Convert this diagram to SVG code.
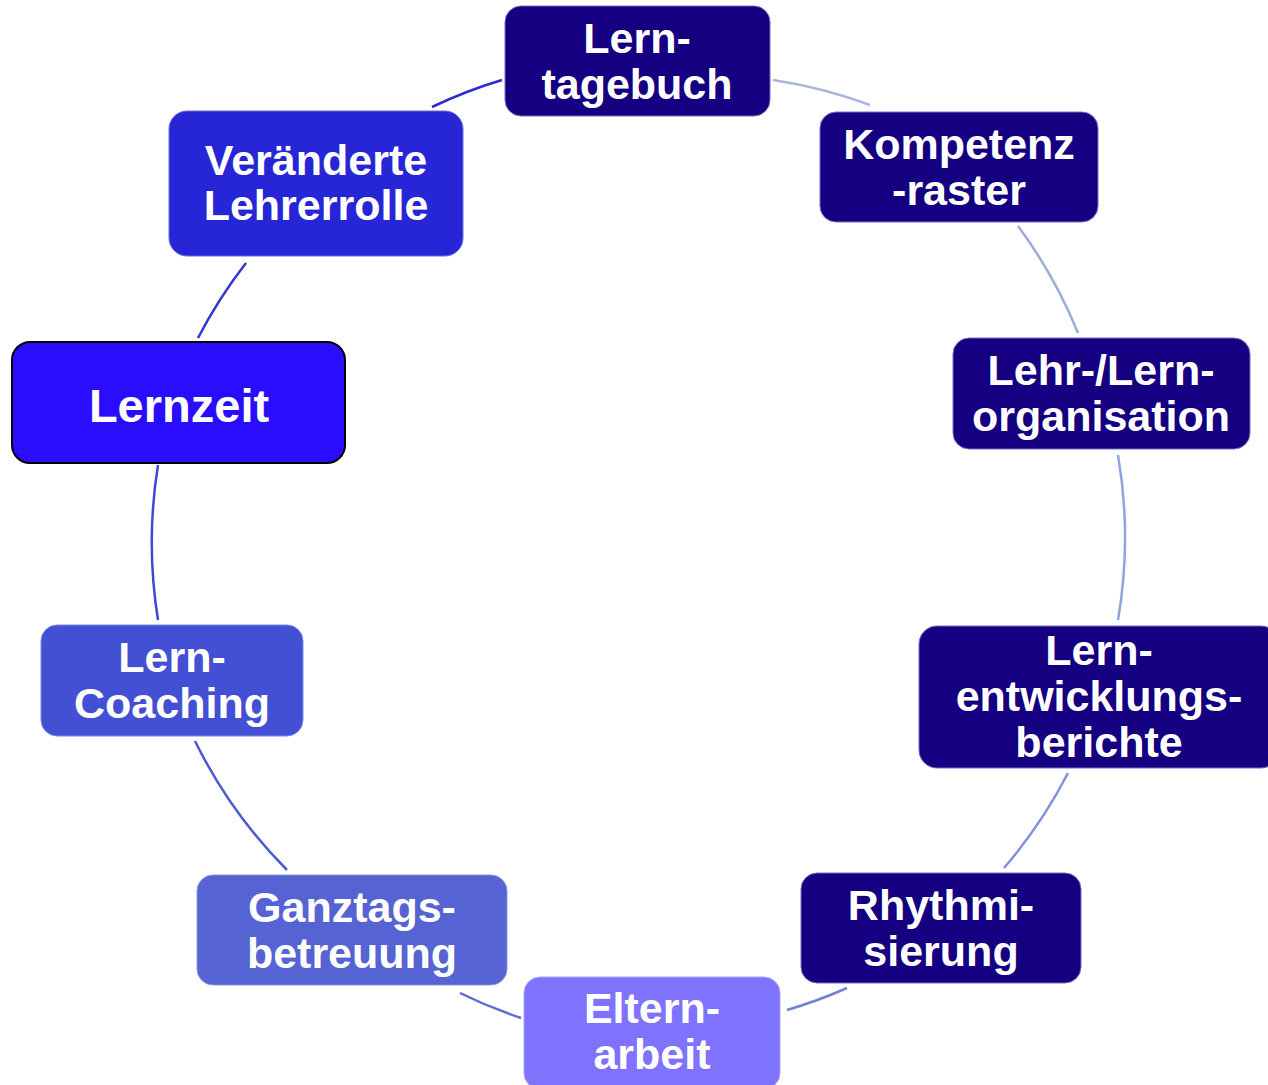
<svg xmlns="http://www.w3.org/2000/svg" width="1268" height="1085" viewBox="0 0 1268 1085">
<style>
.n text{font-family:"Liberation Sans",Arial,sans-serif;font-weight:bold;font-size:43px;fill:#fff;text-anchor:middle}
.dk{fill:#140080;stroke:#7070c0;stroke-width:1}
.c path{fill:none;stroke-width:2.5}
</style>
<rect width="1268" height="1085" fill="#fff"/>
<g id="connectors" class="c">
<path d="M773 80 A487 487 0 0 1 870 105" stroke="#aab6dc"/>
<path d="M1018 226 A487 487 0 0 1 1078 333" stroke="#9cabd9"/>
<path d="M1118 455 A487 487 0 0 1 1118 620" stroke="#91a3dc"/>
<path d="M1068 773 A487 487 0 0 1 1004 868" stroke="#8093d8"/>
<path d="M847 988 A487 487 0 0 1 787 1010" stroke="#6f82d8"/>
<path d="M521 1018 A487 487 0 0 1 460 993" stroke="#5b6bd0"/>
<path d="M287 870 A487 487 0 0 1 195 741" stroke="#4c5ad4"/>
<path d="M158 620 A487 487 0 0 1 158 465" stroke="#3c48d8"/>
<path d="M198 338 A487 487 0 0 1 246 263" stroke="#3434d2"/>
<path d="M432 107 A487 487 0 0 1 502 80" stroke="#2a2ad8"/>
</g>
<g id="n-lerntagebuch" class="n">
<rect class="dk" x="505" y="6" width="265" height="110" rx="16"/>
<text x="637" y="53">Lern-</text><text x="637" y="99">tagebuch</text>
</g>
<g id="n-kompetenzraster" class="n">
<rect class="dk" x="820" y="112" width="278" height="110" rx="16"/>
<text x="959" y="159">Kompetenz</text><text x="959" y="205">-raster</text>
</g>
<g id="n-lehrlernorganisation" class="n">
<rect class="dk" x="953" y="338" width="297" height="111" rx="16"/>
<text x="1101" y="385">Lehr-/Lern-</text><text x="1101" y="431">organisation</text>
</g>
<g id="n-lernentwicklungsberichte" class="n">
<rect class="dk" x="919" y="626" width="360" height="142" rx="18"/>
<text x="1099" y="665">Lern-</text><text x="1099" y="711">entwicklungs-</text><text x="1099" y="757">berichte</text>
</g>
<g id="n-rhythmisierung" class="n">
<rect class="dk" x="801" y="873" width="280" height="110" rx="16"/>
<text x="941" y="920">Rhythmi-</text><text x="941" y="966">sierung</text>
</g>
<g id="n-elternarbeit" class="n">
<rect x="524" y="977" width="256" height="112" rx="16" fill="#7f72fd" stroke="#a8a0ff" stroke-width="1"/>
<text x="652" y="1023">Eltern-</text><text x="652" y="1069">arbeit</text>
</g>
<g id="n-ganztagsbetreuung" class="n">
<rect x="197" y="875" width="310" height="110" rx="16" fill="#5563d3" stroke="#8a94e0" stroke-width="1"/>
<text x="352" y="922">Ganztags-</text><text x="352" y="968">betreuung</text>
</g>
<g id="n-lerncoaching" class="n">
<rect x="41" y="625" width="262" height="111" rx="16" fill="#4350d4" stroke="#7c86e0" stroke-width="1"/>
<text x="172" y="672">Lern-</text><text x="172" y="718">Coaching</text>
</g>
<g id="n-lernzeit" class="n">
<rect x="12" y="342" width="333" height="121" rx="18" fill="#2a0dfd" stroke="#000" stroke-width="2"/>
<text x="179" y="422" style="font-size:47px">Lernzeit</text>
</g>
<g id="n-veraenderte-lehrerrolle" class="n">
<rect x="169" y="111" width="294" height="145" rx="18" fill="#2626d6" stroke="#6a6ae0" stroke-width="1"/>
<text x="316" y="175">Veränderte</text><text x="316" y="220">Lehrerrolle</text>
</g>
</svg>
